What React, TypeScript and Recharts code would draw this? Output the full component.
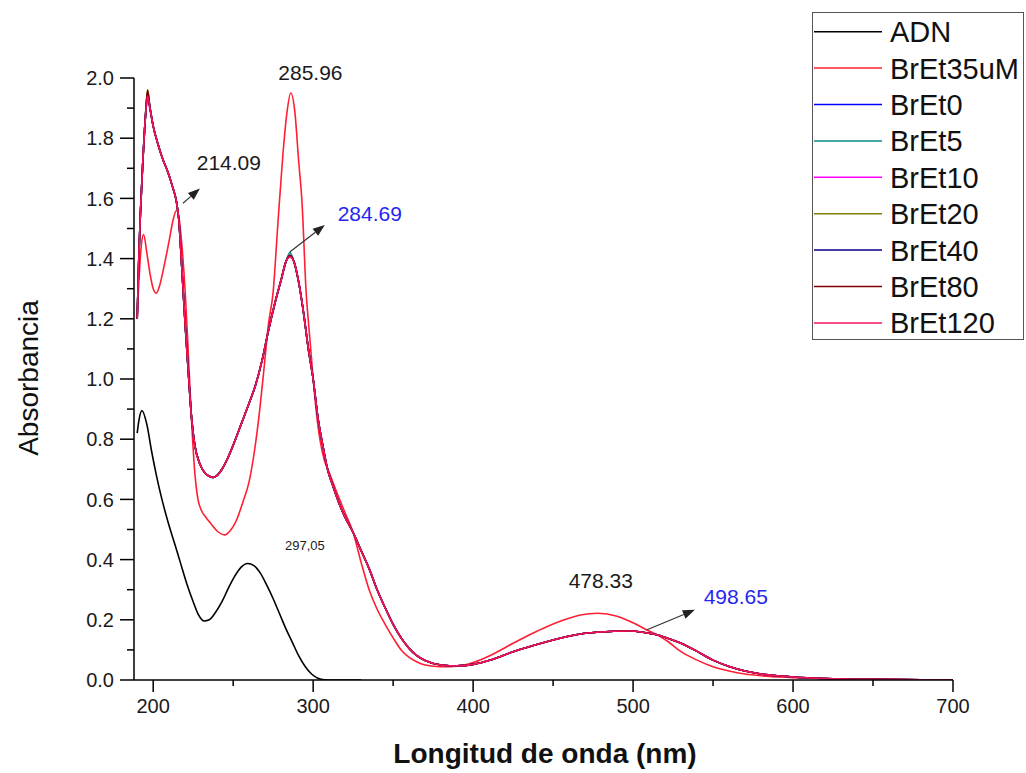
import React from 'react';
import { LineChart, Line, XAxis, YAxis, Legend, ReferenceDot, ReferenceLine } from 'recharts';

const FONT = '"Liberation Sans", Arial, Helvetica, sans-serif';

// ---------- series ----------
const seriesNames = ['ADN', 'BrEt35uM', 'BrEt0', 'BrEt5', 'BrEt10', 'BrEt20', 'BrEt40', 'BrEt80', 'BrEt120'];
const seriesColors = ['#000000', '#FF1E32', '#0000FF', '#0E8A8A', '#FF00FF', '#808000', '#000080', '#800000', '#F5145F'];

// ADN (DNA alone)
const adnWavelength = [190, 191, 193, 196, 199, 202, 205, 209, 213, 217, 221, 225, 228, 232, 235, 239, 243, 247, 251, 255, 259, 263, 267, 271, 275, 279, 283, 287, 291, 295, 299, 303, 307, 312, 330];
const adnAbs = [0.82, 0.86, 0.895, 0.85, 0.76, 0.68, 0.61, 0.53, 0.46, 0.39, 0.32, 0.26, 0.22, 0.196, 0.2, 0.225, 0.26, 0.305, 0.345, 0.375, 0.387, 0.38, 0.355, 0.315, 0.27, 0.22, 0.17, 0.125, 0.08, 0.045, 0.02, 0.006, 0.001, 0, 0];

// BrEt35uM (free ethidium bromide)
const bret35Wavelength = [190, 191, 192.5, 194, 196, 198, 200, 202, 204, 207, 210, 212.5, 214.5, 216, 218, 220, 222, 224, 226, 228, 230, 233, 236, 240, 244.5, 248, 252, 256, 260, 263, 266, 269, 272, 275, 278, 281, 283.5, 286, 288.5, 291, 293, 295.5, 298, 300, 302, 304.2, 307, 310, 315, 320, 325, 330, 335, 340, 345, 350, 355, 360, 365, 370, 380, 390, 400, 412, 425, 436, 446, 457, 467, 478, 490, 500, 508, 515, 522, 530, 540, 550, 560, 570, 580, 600, 620, 650, 700];
const bret35Abs = [1.21, 1.32, 1.44, 1.48, 1.42, 1.35, 1.3, 1.285, 1.31, 1.38, 1.46, 1.53, 1.56, 1.54, 1.44, 1.29, 1.08, 0.86, 0.69, 0.6, 0.565, 0.54, 0.52, 0.495, 0.482, 0.495, 0.53, 0.59, 0.66, 0.75, 0.87, 1.02, 1.18, 1.29, 1.52, 1.74, 1.88, 1.95, 1.89, 1.72, 1.59, 1.3, 1.13, 1.0, 0.89, 0.8, 0.73, 0.69, 0.62, 0.555, 0.49, 0.39, 0.3, 0.235, 0.185, 0.14, 0.1, 0.075, 0.06, 0.05, 0.044, 0.046, 0.058, 0.085, 0.122, 0.152, 0.177, 0.2, 0.216, 0.222, 0.212, 0.19, 0.168, 0.15, 0.127, 0.094, 0.066, 0.044, 0.03, 0.02, 0.014, 0.008, 0.004, 0.001, 0];

// BrEt0 ... BrEt120 (DNA + ethidium bromide) – nearly identical curves
const complexWavelength = [190, 191, 192, 193.5, 195, 196.5, 198, 200, 203, 206, 209, 212, 214.5, 216, 218, 220, 222, 224, 226, 229, 232, 235, 237.5, 240, 243, 246, 250, 255, 260, 264, 268, 272, 276, 280, 283, 285.5, 288, 291, 294, 297, 300, 303, 306, 309, 312, 316, 320, 325, 330, 335, 340, 345, 350, 355, 360, 365, 370, 380, 390, 400, 412, 425, 436, 446, 457, 467, 478, 488, 498, 507, 515, 522, 530, 540, 550, 560, 570, 580, 590, 600, 620, 650, 680, 700];
const complexAbs = [1.2, 1.4, 1.55, 1.72, 1.86, 1.95, 1.9, 1.84, 1.78, 1.73, 1.69, 1.64, 1.59, 1.53, 1.36, 1.18, 1.02, 0.87, 0.78, 0.72, 0.69, 0.677, 0.673, 0.68, 0.7, 0.73, 0.78, 0.85, 0.92, 0.98, 1.06, 1.16, 1.25, 1.33, 1.39, 1.41, 1.39, 1.32, 1.22, 1.1, 1.0, 0.87, 0.78, 0.7, 0.65, 0.59, 0.54, 0.49, 0.43, 0.37, 0.3, 0.24, 0.185, 0.14, 0.105, 0.08, 0.065, 0.05, 0.047, 0.052, 0.068, 0.094, 0.112, 0.127, 0.142, 0.153, 0.159, 0.162, 0.163, 0.158, 0.15, 0.138, 0.122, 0.095, 0.066, 0.045, 0.03, 0.02, 0.014, 0.01, 0.005, 0.002, 0.001, 0];
// per-series peak heights (BrEt0, BrEt5, BrEt10, BrEt20, BrEt40, BrEt80, BrEt120)
const complexPeak196 = [1.93, 1.95, 1.92, 1.96, 1.95, 1.96, 1.94];
const complexPeak285 = [1.41, 1.42, 1.41, 1.41, 1.41, 1.41, 1.405];

// ---------- axes ----------
const xMajorTicks = [200, 300, 400, 500, 600, 700];
const xMinorTicks = [250, 350, 450, 550, 650];
const yMajorTicks = [0, 0.2, 0.4, 0.6, 0.8, 1.0, 1.2, 1.4, 1.6, 1.8, 2.0];
const yMinorTicks = [0.1, 0.3, 0.5, 0.7, 0.9, 1.1, 1.3, 1.5, 1.7, 1.9];
const xTitle = 'Longitud de onda (nm)';
const yTitle = 'Absorbancia';

// ---------- annotations ----------
const annotationTexts = ['285.96', '214.09', '284.69', '297,05', '478.33', '498.65'];
const annotationX = [298.3, 247.3, 335.4, 294.8, 479.8, 564.2];
const annotationY = [2.017, 1.721, 1.551, 0.449, 0.332, 0.279];
const annotationColors = ['#1a1a1a', '#1a1a1a', '#2626F0', '#1a1a1a', '#1a1a1a', '#2626F0'];
const annotationSizes = [21, 21, 21, 13, 21, 21];
const arrowFrom = [[218.6, 1.584], [285.4, 1.422], [508.4, 0.166]];
const arrowTo = [[229.2, 1.633], [307.3, 1.512], [538.6, 0.233]];

// ---------- helpers ----------
const toPoints = (wl: number[], ab: number[]) => wl.map((x, i) => ({ x, y: ab[i] }));

const complexSeries = complexPeak196.map((p196, k) =>
  complexWavelength.map((x, i) => ({
    x,
    y: x === 196.5 ? p196 : x === 285.5 ? complexPeak285[k] : complexAbs[i],
  }))
);

const allSeries = [toPoints(adnWavelength, adnAbs), toPoints(bret35Wavelength, bret35Abs), ...complexSeries];

const W = 1026;
const H = 773;

const Y_TICK = 14;
const Y_MINOR = 7;
const Y_MARGIN = 6;
const X_TICK = 12;
const X_MINOR = 6;
const X_MARGIN = 4;

const YTick = (props: any) => {
  const { x, y, payload } = props;
  const v = payload.value;
  const major = yMajorTicks.some((t) => Math.abs(t - v) < 1e-6);
  const ax = x + Y_MARGIN + Y_TICK;
  return (
    <g>
      <line x1={ax - (major ? Y_TICK : Y_MINOR)} x2={ax} y1={y} y2={y} stroke="#000" strokeWidth={1.5} />
      {major && (
        <text x={x} y={y} dy="0.36em" textAnchor="end" fontSize={20} fill="#1a1a1a" fontFamily={FONT}>
          {v.toFixed(1)}
        </text>
      )}
    </g>
  );
};

const XTick = (props: any) => {
  const { x, y, payload } = props;
  const v = payload.value;
  const major = xMajorTicks.includes(v);
  const ay = y - X_MARGIN - X_TICK;
  return (
    <g>
      <line x1={x} x2={x} y1={ay} y2={ay + (major ? X_TICK : X_MINOR)} stroke="#000" strokeWidth={1.5} />
      {major && (
        <text x={x} y={y} dy={17} textAnchor="middle" fontSize={20} fill="#1a1a1a" fontFamily={FONT}>
          {String(v)}
        </text>
      )}
    </g>
  );
};

const Arrow = (props: any) => {
  const { x1, y1, x2, y2 } = props;
  const dx = x2 - x1;
  const dy = y2 - y1;
  const len = Math.sqrt(dx * dx + dy * dy) || 1;
  const ux = dx / len;
  const uy = dy / len;
  const hl = 12;
  const hw = 4.5;
  const bx = x2 - ux * hl;
  const by = y2 - uy * hl;
  return (
    <g>
      <line x1={x1} y1={y1} x2={bx} y2={by} stroke="#333" strokeWidth={1.2} />
      <polygon
        points={`${x2},${y2} ${bx - uy * hw},${by + ux * hw} ${bx + uy * hw},${by - ux * hw}`}
        fill="#222"
      />
    </g>
  );
};

const LegendBox = () => {
  const rowH = 36.4;
  return (
    <svg width={212} height={328} style={{ display: 'block' }}>
      <rect x={0.5} y={0.5} width={211} height={327} fill="#fff" stroke="#555" strokeWidth={1} />
      {seriesNames.map((n, i) => {
        const cy = 1.5 + rowH * (i + 0.5);
        return (
          <g key={n}>
            <line x1={2} x2={70} y1={cy} y2={cy} stroke={seriesColors[i]} strokeWidth={1.5} />
            <text x={78} y={cy} dy="0.36em" fontSize={29} fontFamily={FONT} fill="#111">
              {n}
            </text>
          </g>
        );
      })}
    </svg>
  );
};

export default function App() {
  return (
    <div style={{ position: 'absolute', left: 0, top: 0, width: W, height: H, background: '#fff' }}>
      <LineChart width={W} height={H} margin={{ top: 78, right: 73, left: 0, bottom: 0 }}>
        <XAxis
          type="number"
          dataKey="x"
          domain={[188, 700]}
          ticks={[...xMajorTicks, ...xMinorTicks].sort((a, b) => a - b)}
          allowDataOverflow
          height={93}
          tickSize={X_TICK}
          tickMargin={X_MARGIN}
          tickLine={false}
          tick={<XTick />}
          interval={0}
          axisLine={{ stroke: '#000', strokeWidth: 1.5 }}
          label={{
            content: () => (
              <text x={545} y={763} textAnchor="middle" fontSize={28} fontWeight="bold" fill="#111" fontFamily={FONT}>
                {xTitle}
              </text>
            ),
          }}
        />
        <YAxis
          type="number"
          dataKey="y"
          domain={[0, 2]}
          ticks={[...yMajorTicks, ...yMinorTicks].sort((a, b) => a - b)}
          allowDataOverflow
          width={134}
          tickSize={Y_TICK}
          tickMargin={Y_MARGIN}
          tickLine={false}
          tick={<YTick />}
          interval={0}
          axisLine={{ stroke: '#000', strokeWidth: 1.5 }}
          label={{
            content: () => (
              <text
                x={28}
                y={378}
                transform="rotate(-90 28 378)"
                textAnchor="middle"
                dy="0.36em"
                fontSize={28}
                fill="#111"
                fontFamily={FONT}
              >
                {yTitle}
              </text>
            ),
          }}
        />
        <Legend
          layout="vertical"
          align="center"
          verticalAlign="middle"
          content={() => <LegendBox />}
          wrapperStyle={{ position: 'absolute', left: 812, top: 12, width: 212, height: 328 }}
        />
        {allSeries.map((pts, i) => (
          <Line
            key={seriesNames[i]}
            data={pts}
            dataKey="y"
            name={seriesNames[i]}
            type="monotone"
            stroke={seriesColors[i]}
            strokeWidth={1.6}
            dot={false}
            activeDot={false}
            isAnimationActive={false}
          />
        ))}
        {arrowFrom.map((f, i) => (
          <ReferenceLine
            key={'arrow' + i}
            segment={[{ x: f[0], y: f[1] }, { x: arrowTo[i][0], y: arrowTo[i][1] }]}
            ifOverflow="visible"
            shape={(p: any) => <Arrow {...p} />}
          />
        ))}
        {annotationTexts.map((t, i) => (
          <ReferenceDot
            key={'ann' + i}
            x={annotationX[i]}
            y={annotationY[i]}
            r={0}
            ifOverflow="visible"
            shape={(p: any) => (
              <text
                x={p.cx}
                y={p.cy}
                dy="0.36em"
                textAnchor="middle"
                fontSize={annotationSizes[i]}
                fill={annotationColors[i]}
                fontFamily={FONT}
              >
                {t}
              </text>
            )}
          />
        ))}
      </LineChart>
    </div>
  );
}
